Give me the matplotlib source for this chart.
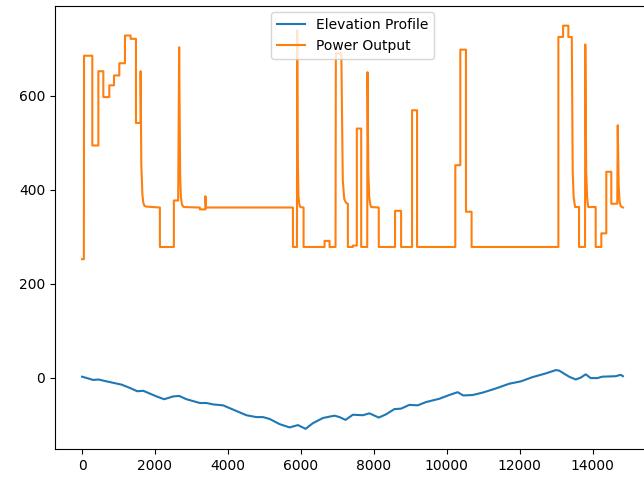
import matplotlib
matplotlib.use("Agg")
import matplotlib.pyplot as plt

# elevation profile (distance, elevation)
elev_x = [0, 310, 447, 676, 1086, 1314, 1514, 1678, 2043, 2252, 2498, 2663, 2864,
          3229, 3411, 3594, 3868, 4142, 4506, 4780, 4963, 5145, 5419, 5692, 5920,
          6130, 6330, 6604, 6787, 6924, 7060, 7225, 7425, 7699, 7882, 8137, 8339,
          8566, 8749, 8976, 9204, 9433, 9798, 10071, 10300, 10454, 10710, 10983,
          11349, 11713, 12033, 12352, 12718, 12991, 13082, 13356, 13538, 13675,
          13812, 13949, 14130, 14267, 14632, 14770, 14833]
elev_y = [2, -5, -4, -8, -15, -22, -29, -28, -40, -46, -40, -39, -46,
          -54, -54, -57, -59, -68, -80, -84, -84, -88, -99, -106, -101,
          -109, -97, -86, -83, -81, -84, -90, -79, -80, -76, -85, -78,
          -67, -66, -58, -59, -52, -45, -37, -31, -38, -37, -32,
          -23, -13, -8, 1, 9, 16, 15, 2, -4, 0,
          7, -1, -1, 2, 3, 6, 3]

# power output (distance, watts), one row per stretch of the ride
power_x = (
    [0, 50, 55, 282]
    + [282, 447, 447, 584, 584, 748, 748, 876, 876, 1022, 1022, 1177]
    + [1177, 1332, 1332, 1478, 1478, 1606]
    + [1606, 1625, 1655, 1680, 1710, 1752, 2135]
    + [2135, 2518, 2518, 2636]
    + [2663, 2690, 2710, 2740, 2791, 3229]
    + [3230, 3383, 3383, 3400, 5783]
    + [5783, 5893]
    + [5900, 5915, 5935, 5960, 5985, 6075]
    + [6075, 6650, 6650, 6787, 6787, 6951]
    + [6960, 7110, 7150, 7190, 7240, 7290]
    + [7290, 7425, 7430, 7535, 7535, 7655, 7655, 7820]
    + [7828, 7850, 7875, 7900, 7928, 8137]
    + [8137, 8583, 8583, 8749, 8749, 9050, 9050, 9187, 9187, 10236]
    + [10236, 10373, 10373, 10528, 10528, 10682, 10682, 13062]
    + [13062, 13191, 13191, 13336, 13336, 13430, 13455, 13480, 13520, 13629]
    + [13629, 13793]
    + [13800, 13825, 13850, 13870, 13884, 14085]
    + [14085, 14240, 14240, 14376, 14376, 14513, 14513, 14677]
    + [14690, 14715, 14740, 14770, 14833]
)
power_y = (
    [252, 252, 685, 685]
    + [494, 494, 652, 652, 597, 597, 622, 622, 643, 643, 669, 669]
    + [728, 728, 721, 721, 542, 542]
    + [652, 452, 390, 372, 366, 364, 362]
    + [278, 278, 377, 377]
    + [703, 430, 385, 368, 363, 362]
    + [358, 358, 386, 362, 362]
    + [278, 278]
    + [739, 470, 385, 368, 363, 362]
    + [278, 278, 291, 291, 278, 278]
    + [690, 690, 420, 380, 372, 370]
    + [278, 278, 281, 281, 530, 530, 278, 278]
    + [650, 440, 385, 370, 363, 362]
    + [278, 278, 355, 355, 278, 278, 569, 569, 278, 278]
    + [452, 452, 698, 698, 353, 353, 278, 278]
    + [725, 725, 749, 749, 725, 725, 440, 385, 363, 363]
    + [278, 278]
    + [709, 440, 385, 368, 363, 363]
    + [278, 278, 307, 307, 438, 438, 370, 370]
    + [537, 410, 375, 365, 362]
)


def main() -> None:
    fig = plt.figure(figsize=(6.44, 4.78), dpi=100)
    ax = fig.add_axes([55 / 644, 29 / 478, 595 / 644, 443.5 / 478])

    ax.plot(elev_x, elev_y, label="Elevation Profile")
    ax.plot(power_x, power_y, label="Power Output")
    ax.legend(loc="upper center")

    fig.savefig("out.png", dpi=100)


if __name__ == "__main__":
    main()
